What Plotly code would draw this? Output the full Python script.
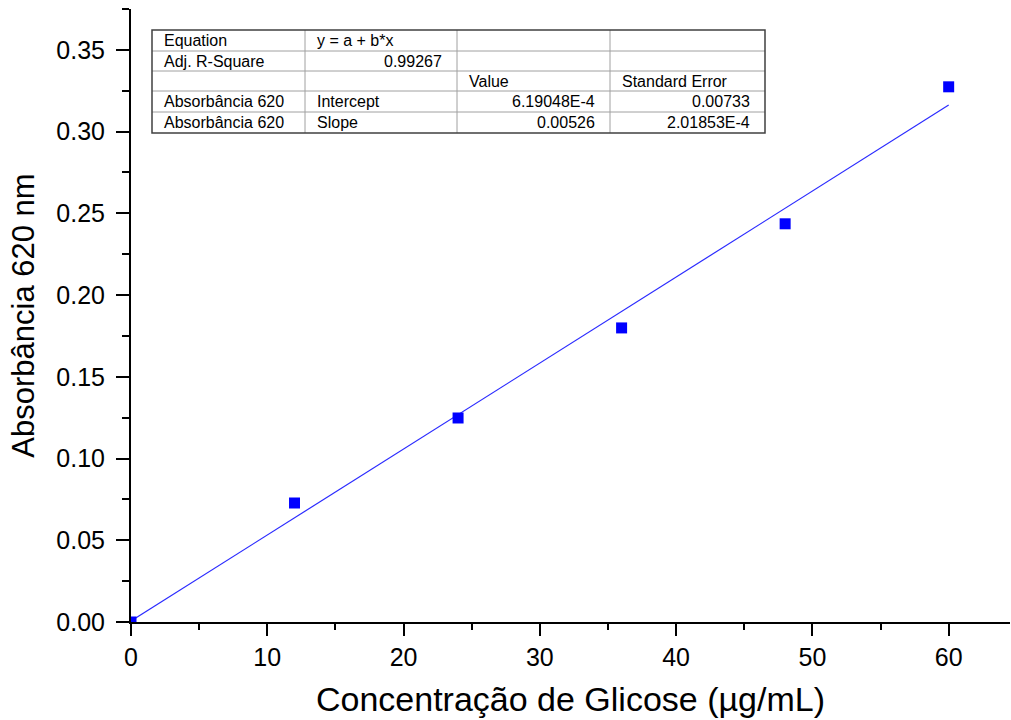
import plotly.graph_objects as go

# ---- data ----
conc = [0, 12, 24, 36, 48, 60]
absorb = [0.0, 0.0728, 0.1248, 0.1799, 0.2436, 0.3274]
fit_intercept = 6.19048e-4
fit_slope = 0.00526

x_title = "Concentração de Glicose (µg/mL)"
y_title = "Absorbância 620 nm"

# fit table (rows x cols) and per-cell alignment
table_rows = [
    ["Equation", "y = a + b*x", "", ""],
    ["Adj. R-Square", "0.99267", "", ""],
    ["", "", "Value", "Standard Error"],
    ["Absorbância 620", "Intercept", "6.19048E-4", "0.00733"],
    ["Absorbância 620", "Slope", "0.00526", "2.01853E-4"],
]
table_align = [
    ["l", "l", "l", "l"],
    ["l", "r", "l", "l"],
    ["l", "l", "l", "l"],
    ["l", "l", "r", "r"],
    ["l", "l", "r", "r"],
]

FONT = "Liberation Sans, Arial, sans-serif"

fig = go.Figure()

x_line = [min(conc), max(conc)]
y_line = [fit_intercept + fit_slope * v for v in x_line]
fig.add_trace(go.Scatter(x=x_line, y=y_line, mode="lines",
                         line=dict(color="#2a2aff", width=1.2),
                         showlegend=False, hoverinfo="skip"))
fig.add_trace(go.Scatter(x=conc, y=absorb, mode="markers",
                         marker=dict(symbol="square", size=11, color="#0000ff",
                                     line=dict(width=0)),
                         showlegend=False))

W, H = 1011, 720
ml, mr, mt, mb = 131, 1, 9, 98

# ---- table drawn with shapes + annotations in pixel-derived paper coords ----
col_edges = [152, 305, 457, 610, 765]
row_edges = [30, 51, 71, 91, 112, 133]
pw = W - ml - mr
ph = H - mt - mb


def px2x(px):
    return (px - ml) / pw


def py2y(py):
    return 1 - (py - mt) / ph


shapes = []
for cx in col_edges[1:-1]:
    shapes.append(dict(type="line", xref="paper", yref="paper",
                       x0=px2x(cx), x1=px2x(cx), y0=py2y(row_edges[0]), y1=py2y(row_edges[-1]),
                       line=dict(color="#a0a0a0", width=1)))
for ry in row_edges[1:-1]:
    shapes.append(dict(type="line", xref="paper", yref="paper",
                       x0=px2x(col_edges[0]), x1=px2x(col_edges[-1]), y0=py2y(ry), y1=py2y(ry),
                       line=dict(color="#a0a0a0", width=1)))
shapes.append(dict(type="rect", xref="paper", yref="paper",
                   x0=px2x(col_edges[0]), x1=px2x(col_edges[-1]),
                   y0=py2y(row_edges[-1]), y1=py2y(row_edges[0]),
                   line=dict(color="#404040", width=1.5), fillcolor="rgba(0,0,0,0)"))

annotations = []
pad = 10
for r, row in enumerate(table_rows):
    for c, txt in enumerate(row):
        if not txt:
            continue
        al = table_align[r][c]
        if al == "l":
            xp = col_edges[c] + pad
            xanchor = "left"
        else:
            xp = col_edges[c + 1] - pad - 3
            xanchor = "right"
        yp = (row_edges[r] + row_edges[r + 1]) / 2
        annotations.append(dict(x=px2x(xp), y=py2y(yp), xref="paper", yref="paper",
                                text=txt, showarrow=False, xanchor=xanchor, yanchor="middle",
                                font=dict(family=FONT, size=16, color="black")))

fig.update_layout(
    width=W, height=H,
    margin=dict(l=ml, r=mr, t=mt, b=mb),
    paper_bgcolor="white", plot_bgcolor="white",
    font=dict(family=FONT, color="black"),
    shapes=shapes,
    annotations=annotations,
)

fig.update_xaxes(
    range=[0, 64.5], tick0=0, dtick=10,
    ticks="outside", ticklen=12, tickwidth=2, tickcolor="black",
    showline=True, linecolor="black", linewidth=2,
    showgrid=False, zeroline=False,
    minor=dict(dtick=5, tick0=0, ticks="outside", ticklen=6, tickwidth=2,
               tickcolor="black", showgrid=False),
    tickfont=dict(family=FONT, size=25, color="black"),
    title=dict(text=x_title, font=dict(family=FONT, size=34, color="black"), standoff=17),
)
fig.update_yaxes(
    range=[0, 0.375], tick0=0, dtick=0.05, tickformat=".2f",
    ticks="outside", ticklen=13, tickwidth=2, tickcolor="black",
    showline=True, linecolor="black", linewidth=2,
    showgrid=False, zeroline=False,
    minor=dict(dtick=0.025, tick0=0, ticks="outside", ticklen=7, tickwidth=2,
               tickcolor="black", showgrid=False),
    tickfont=dict(family=FONT, size=25, color="black"),
    ticklabelstandoff=6,
    title=dict(text=y_title, font=dict(family=FONT, size=31, color="black"), standoff=12),
)

fig.write_html(
    "out.html",
    config={"displayModeBar": False},
    post_script="document.body.style.margin='0';document.body.style.overflow='hidden';",
)
